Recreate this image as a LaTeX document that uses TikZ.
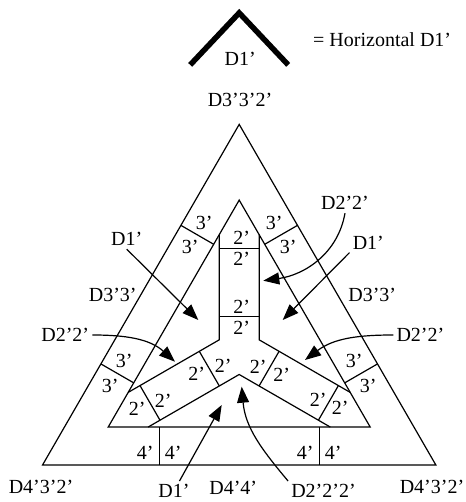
\documentclass[tikz,border=0pt]{standalone}
\usepackage{fontspec}
\setmainfont{Liberation Serif}
\usetikzlibrary{arrows.meta}
\begin{document}
\begin{tikzpicture}[
    x=1pt, y=1pt,
    lbl/.style={inner sep=3pt, font=\fontsize{20}{24}\selectfont},
    wall/.style={line width=1.2pt},
    pointer/.style={->, line width=1.2pt},
    >={Triangle[length=16pt, width=12pt]}
]
\useasboundingbox (-239.2,-150.6) rectangle (225.8,351.4);
\draw[line width=5.5pt] (-49,286.5) -- (0,338.5) -- (49,286.5);
\node[lbl] (legsym) at (1,293) {D1'};
\node[lbl, anchor=west] (legtxt) at (70.8,311.5) {= Horizontal D1'};
\node[lbl] (d332) at (0.8,251.4) {D3'3'2'};
\coordinate (o1) at (0,227);
\coordinate (o2) at (-196.6,-113.5);
\coordinate (o3) at (196.6,-113.5);
\coordinate (m1) at (0,151.3);
\coordinate (m2) at (-131,-75.65);
\coordinate (m3) at (131,-75.65);
\draw[wall] (o1) -- (o2) -- (o3) -- cycle;
\draw[wall] (m1) -- (m2) -- (m3) -- cycle;
\draw[wall] (-20,116.7) -- (-20,11.55) -- (-111.06,-41.03);
\draw[wall] (20,116.7) -- (20,11.55) -- (111.06,-41.03);
\draw[wall] (-91.06,-75.65) -- (0,-23.09) -- (91.06,-75.65);
\draw[wall] (-20,34.5) -- (20,34.5);
\draw[wall] (-20,103) -- (20,103);
\draw[wall] (-39.88,0.07) -- (-19.88,-34.57);
\draw[wall] (-99.2,-34.18) -- (-79.2,-68.82);
\draw[wall] (39.88,0.07) -- (19.88,-34.57);
\draw[wall] (99.2,-34.18) -- (79.2,-68.82);
\draw[wall] (-80,-75.65) -- (-80,-113.5);
\draw[wall] (80,-75.65) -- (80,-113.5);
\draw[wall] (-105.51,-31.45) -- (-138.29,-12.53);
\draw[wall] (-25.51,107.11) -- (-58.29,126.03);
\draw[wall] (105.51,-31.45) -- (138.29,-12.53);
\draw[wall] (25.51,107.11) -- (58.29,126.03);
\node[lbl] (s1) at (2.5,113.5) {2'};
\node[lbl] (s2) at (2.5,92.5) {2'};
\node[lbl] (s3) at (2.5,45) {2'};
\node[lbl] (s4) at (2.5,24) {2'};
\node[lbl] (la1) at (-16,-14) {2'};
\node[lbl] (la2) at (-42.5,-22.5) {2'};
\node[lbl] (la3) at (-76,-49) {2'};
\node[lbl] (la4) at (-102,-57.5) {2'};
\node[lbl] (ra1) at (19,-15) {2'};
\node[lbl] (ra2) at (42.5,-23.5) {2'};
\node[lbl] (ra3) at (79,-48.5) {2'};
\node[lbl] (ra4) at (101,-56.5) {2'};
\node[lbl] (bl1) at (-34.9,128.7) {3'};
\node[lbl] (bl2) at (-48.9,104.45) {3'};
\node[lbl] (bl3) at (-114.9,-9.87) {3'};
\node[lbl] (bl4) at (-128.9,-34.1) {3'};
\node[lbl] (br1) at (34.9,128.7) {3'};
\node[lbl] (br2) at (48.9,104.45) {3'};
\node[lbl] (br3) at (114.9,-9.87) {3'};
\node[lbl] (br4) at (128.9,-34.1) {3'};
\node[lbl] (bb1) at (-94,-101.3) {4'};
\node[lbl] (bb2) at (-66,-101.3) {4'};
\node[lbl] (bb3) at (66,-101.3) {4'};
\node[lbl] (bb4) at (94,-101.3) {4'};
\node[lbl] (d33l) at (-126.5,56.4) {D3'3'};
\node[lbl] (d33r) at (133,56.4) {D3'3'};
\node[lbl] (d1l) at (-112.5,112.1) {D1'};
\coordinate (t1l) at (-40.9,31.4);
\draw[pointer] (d1l.south) -- (t1l);
\node[lbl] (d1r) at (129.1,108.7) {D1'};
\coordinate (t1r) at (43.5,31.4);
\draw[pointer] (d1r.south west) -- (t1r);
\node[lbl] (d22l) at (-174,16.4) {D2'2'};
\coordinate (t22l) at (-64.2,-10.3);
\draw[pointer] (d22l.east) to[out=0, in=138] (t22l);
\node[lbl] (d22u) at (105.8,148.1) {D2'2'};
\coordinate (t22u) at (24.1,70.7);
\draw[pointer] (d22u.south) to[out=-100, in=8] (t22u);
\node[lbl] (d22r) at (181.2,16.4) {D2'2'};
\coordinate (t22r) at (65.8,-8.6);
\draw[pointer] (d22r.west) to[out=180, in=37] (t22r);
\node[lbl] (d1b) at (-65.2,-139.5) {D1'};
\coordinate (t1b) at (-17.5,-53.6);
\draw[pointer] (d1b) -- (t1b);
\node[lbl] (d222) at (84.3,-139.5) {D2'2'2'};
\coordinate (t222) at (2.5,-35.3);
\draw[pointer] (d222.north west) to[out=130, in=-85] (t222);
\node[lbl] (d44) at (-6,-136) {D4'4'};
\node[lbl] (d432l) at (-198.2,-136) {D4'3'2'};
\node[lbl] (d432r) at (192.8,-136) {D4'3'2'};
\end{tikzpicture}
\end{document}
